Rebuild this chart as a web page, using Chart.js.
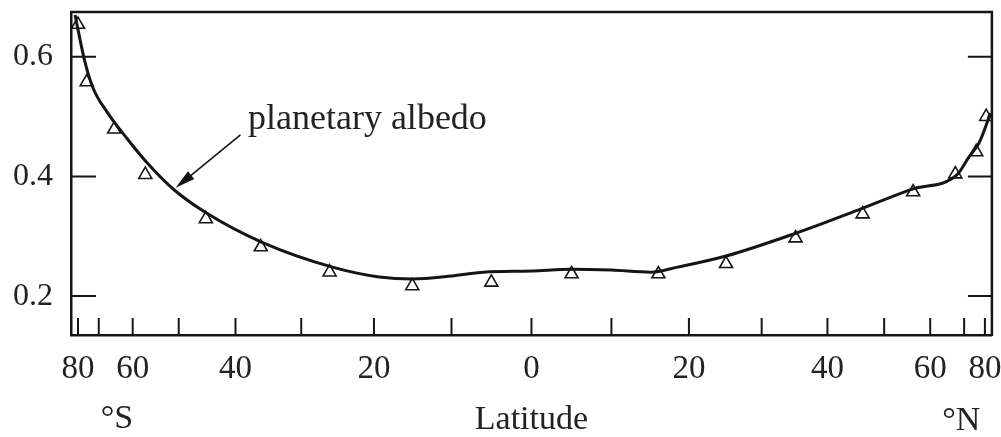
<!DOCTYPE html>
<html>
<head>
<meta charset="utf-8">
<script src="https://cdn.jsdelivr.net/npm/chart.js@4/dist/chart.umd.min.js"></script>
<style>
  html, body { margin: 0; padding: 0; background: #fff; }
  #c { display: block; }
</style>
</head>
<body>
<canvas id="c" width="1001" height="437"></canvas>
<script>
// ---- data ----
const obsLatitude = [-80, -75, -65, -57, -45, -36, -26, -15, -5, 5, 16, 25, 35, 46, 56, 67, 75, 81];
const obsAlbedo   = [0.654, 0.558, 0.479, 0.403, 0.329, 0.282, 0.240, 0.217, 0.223, 0.237, 0.237, 0.254, 0.297, 0.337, 0.374, 0.404, 0.441, 0.500];

const curveLatitude = [-82.4, -75.9, -72.2, -67.2, -61.5, -56.7, -50.8, -44.9, -35.8, -25.6, -19.3, -15, -10, -6, 0, 5, 10, 15, 18.5, 25, 35, 45.6, 55.8, 67.5, 71.8, 76.4, 81.6, 85];
const curveAlbedo   = [0.670, 0.592, 0.548, 0.508, 0.464, 0.424, 0.377, 0.339, 0.290, 0.2485, 0.232, 0.2285, 0.2335, 0.240, 0.242, 0.245, 0.2435, 0.240, 0.2485, 0.267, 0.305, 0.3455, 0.379, 0.4025, 0.4325, 0.456, 0.4895, 0.506];

const xLabelLatitudes = [-80, -60, -40, -20, 0, 20, 40, 60, 80];
const xMinorLatitudes = [-80, -70, -60, -50, -40, -30, -20, -10, 0, 10, 20, 30, 40, 50, 60, 70, 80];
const yTickValues = [0.2, 0.4, 0.6];

const seriesLabel = 'planetary albedo';
const xTitle = 'Latitude';
const southLabel = '°S';
const northLabel = '°N';

// ---- area-weighted (sine of latitude) scale ----
class SineLatitudeScale extends Chart.LinearScale {
  getPixelForValue(value) {
    if (value === null || value === undefined || isNaN(value)) return NaN;
    const s = Math.sin(value * Math.PI / 180);
    return this.getPixelForDecimal((s + 1) / 2);
  }
  getValueForPixel(pixel) {
    const d = this.getDecimalForPixel(pixel);
    return Math.asin(Math.max(-1, Math.min(1, d * 2 - 1))) * 180 / Math.PI;
  }
}
SineLatitudeScale.id = 'sinelatitude';
SineLatitudeScale.defaults = Chart.LinearScale.defaults;
Chart.register(SineLatitudeScale);

const INK = '#151515';
const SERIF = '"Liberation Serif", "DejaVu Serif", serif';

const decorPlugin = {
  id: 'decor',
  afterDatasetsDraw(chart) {
    const { ctx, chartArea: a, scales } = chart;
    const x = scales.x, y = scales.y;
    ctx.save();
    ctx.strokeStyle = INK;
    ctx.lineCap = 'butt';
    // top and right frame
    ctx.lineWidth = 2.5;
    ctx.beginPath();
    ctx.moveTo(a.left - 1, a.top);
    ctx.lineTo(a.right, a.top);
    ctx.lineTo(a.right, a.bottom + 1);
    ctx.stroke();
    // inward y ticks (both sides)
    ctx.lineWidth = 2;
    yTickValues.forEach(v => {
      const py = y.getPixelForValue(v);
      ctx.beginPath();
      ctx.moveTo(a.left, py); ctx.lineTo(a.left + 25, py);
      ctx.moveTo(a.right, py); ctx.lineTo(a.right - 24, py);
      ctx.stroke();
    });
    // inward x ticks every 10 degrees
    xMinorLatitudes.forEach(lat => {
      const px = x.getPixelForValue(lat);
      ctx.beginPath();
      ctx.moveTo(px, a.bottom); ctx.lineTo(px, a.bottom - 17);
      ctx.stroke();
    });
    // annotation arrow
    const tipX = x.getPixelForValue(-50.6), tipY = y.getPixelForValue(0.381);
    const startX = x.getPixelForValue(-39.2), startY = y.getPixelForValue(0.4695);
    const ang = Math.atan2(startY - tipY, startX - tipX);
    ctx.lineWidth = 1.6;
    ctx.beginPath();
    ctx.moveTo(startX, startY);
    ctx.lineTo(tipX + Math.cos(ang) * 10, tipY + Math.sin(ang) * 10);
    ctx.stroke();
    const len = 20, half = 5;
    const bx = tipX + Math.cos(ang) * len, by = tipY + Math.sin(ang) * len;
    ctx.fillStyle = INK;
    ctx.beginPath();
    ctx.moveTo(tipX, tipY);
    ctx.lineTo(bx - Math.sin(ang) * half, by + Math.cos(ang) * half);
    ctx.lineTo(bx + Math.sin(ang) * half, by - Math.cos(ang) * half);
    ctx.closePath();
    ctx.fill();
    // annotation text
    ctx.fillStyle = '#222';
    ctx.font = '36px ' + SERIF;
    ctx.textAlign = 'left';
    ctx.textBaseline = 'alphabetic';
    ctx.fillText(seriesLabel, x.getPixelForValue(-38.0), y.getPixelForValue(0.4795));
    // hemisphere labels
    ctx.font = '34px ' + SERIF;
    ctx.textAlign = 'center';
    ctx.textBaseline = 'middle';
    ctx.fillText(southLabel, x.getPixelForValue(-64.2), 419);
    ctx.fillText(northLabel, x.getPixelForValue(69), 421);
    ctx.restore();
  }
};

new Chart(document.getElementById('c'), {
  type: 'line',
  data: {
    datasets: [
      {
        label: seriesLabel,
        data: curveLatitude.map((lat, i) => ({ x: lat, y: curveAlbedo[i] })),
        borderColor: INK,
        borderWidth: 3,
        pointRadius: 0,
        fill: false,
        cubicInterpolationMode: 'monotone'
      },
      {
        label: 'observed',
        data: obsLatitude.map((lat, i) => ({ x: lat, y: obsAlbedo[i] })),
        showLine: false,
        pointStyle: 'triangle',
        pointRadius: 7.5,
        pointBackgroundColor: '#fff',
        pointBorderColor: INK,
        pointBorderWidth: 1.6
      }
    ]
  },
  options: {
    responsive: false,
    animation: false,
    devicePixelRatio: 1,
    layout: { padding: { top: 12, right: 6, left: 0, bottom: 0 } },
    plugins: { legend: { display: false }, tooltip: { enabled: false } },
    scales: {
      x: {
        type: 'sinelatitude',
        min: -90, max: 90,
        grid: { display: false, drawTicks: false },
        border: { display: true, color: INK, width: 2.5 },
        afterBuildTicks: s => { s.ticks = xLabelLatitudes.map(v => ({ value: v })); },
        afterFit: s => { s.height = 102; s.paddingLeft = 0; s.paddingRight = 0; },
        ticks: {
          autoSkip: false, maxRotation: 0, padding: 15,
          color: '#222',
          font: { family: SERIF, size: 33 },
          callback: v => String(Math.abs(v))
        },
        title: {
          display: true, text: xTitle, color: '#222',
          font: { family: SERIF, size: 34, lineHeight: 1 },
          padding: { top: 0, bottom: 0 }
        }
      },
      y: {
        type: 'linear',
        min: 0.135, max: 0.675,
        grid: { display: false, drawTicks: false },
        border: { display: true, color: INK, width: 2.5 },
        afterBuildTicks: s => { s.ticks = yTickValues.map(v => ({ value: v })); },
        afterFit: s => { s.width = 71; s.paddingTop = 0; s.paddingBottom = 0; },
        ticks: {
          padding: 18, color: '#222',
          font: { family: SERIF, size: 32 },
          callback: v => v.toFixed(1)
        }
      }
    }
  },
  plugins: [decorPlugin]
});
</script>
</body>
</html>
